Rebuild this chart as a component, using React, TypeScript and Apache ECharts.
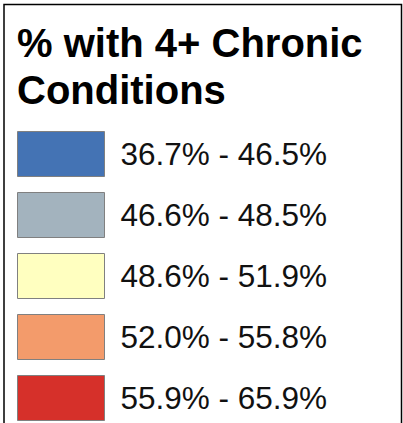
import React, { useEffect, useRef } from "react";
import * as echarts from "echarts";

const titleText = "% with 4+ Chronic\nConditions";
const rangeLabels = [
  "36.7% - 46.5%",
  "46.6% - 48.5%",
  "48.6% - 51.9%",
  "52.0% - 55.8%",
  "55.9% - 65.9%",
];
const rangeColors = ["#4473b4", "#a3b3be", "#ffffc0", "#f39b6b", "#d6302a"];

export default function App() {
  const ref = useRef<HTMLDivElement>(null);
  useEffect(() => {
    if (!ref.current) return;
    const chart = echarts.init(ref.current, null, { renderer: "svg" });
    const font = "'Liberation Sans', Arial, Helvetica, sans-serif";
    chart.setOption({
      animation: false,
      backgroundColor: "#ffffff",
      title: {
        text: titleText,
        left: 17,
        top: 19,
        padding: 0,
        textStyle: {
          fontFamily: font,
          fontSize: 40,
          fontWeight: "bold",
          lineHeight: 47,
          color: "#000000",
        },
      },
      legend: {
        orient: "vertical",
        left: 17,
        top: 131,
        padding: 0,
        icon: "rect",
        itemWidth: 87,
        itemHeight: 45,
        itemGap: 15,
        selectedMode: false,
        data: rangeLabels,
        itemStyle: { borderColor: "#808080", borderWidth: 1 },
        textStyle: {
          fontFamily: font,
          fontSize: 31.5,
          color: "#111111",
          padding: [0, 0, 4, 11],
        },
      },
      grid: { left: -100, top: -100, width: 1, height: 1, show: false },
      xAxis: { type: "category", show: false, data: [] },
      yAxis: { type: "value", show: false },
      series: rangeLabels.map((name, i) => ({
        type: "bar",
        name,
        data: [],
        itemStyle: { color: rangeColors[i] },
      })),
      graphic: [
        {
          type: "polyline",
          shape: {
            points: [
              [4, 430],
              [4, 4.5],
              [401.5, 4.5],
              [401.5, 430],
            ],
          },
          style: { stroke: "#000000", lineWidth: 1.5, fill: "none" },
          silent: true,
        },
      ],
    });
    return () => chart.dispose();
  }, []);
  return (
    <div
      ref={ref}
      style={{ position: "fixed", left: 0, top: 0, width: 403, height: 423 }}
    />
  );
}
